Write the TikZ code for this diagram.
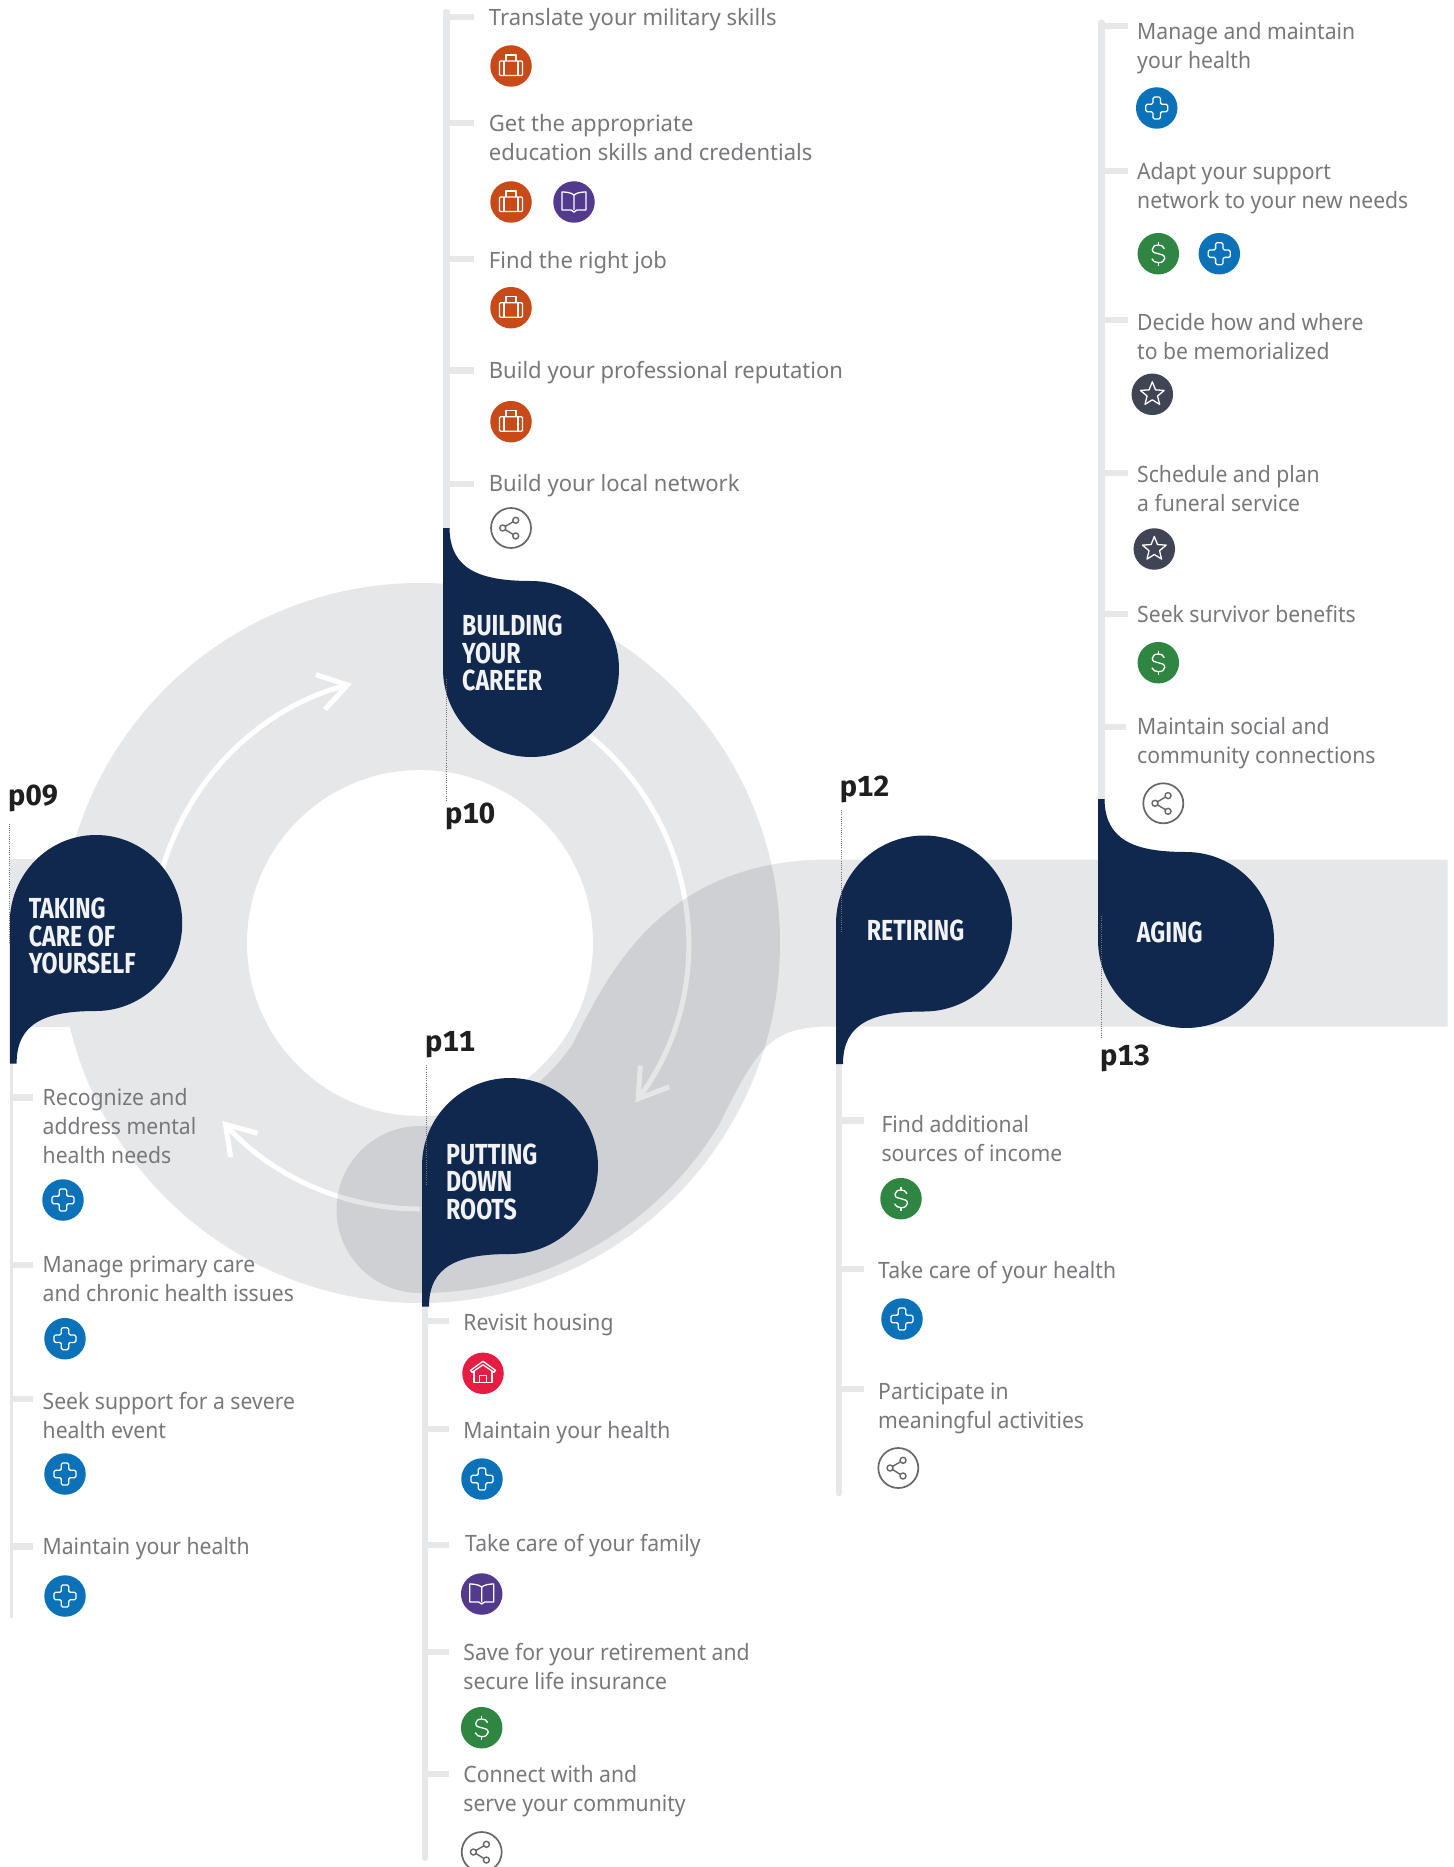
\documentclass[tikz,border=0pt]{standalone}
\usepackage{fontspec}
\setmainfont[FakeStretch=0.94]{Noto Sans}
\newfontfamily\careerfont[FakeStretch=0.98]{Noto Sans}
\newfontfamily\labelfont[Numbers=Monospaced]{Fira Sans}
\newfontfamily\headfont[FakeStretch=0.8]{Fira Sans}
\usetikzlibrary{arrows.meta}

\definecolor{navy}{HTML}{10284D}
\definecolor{lightring}{HTML}{E6E7E9}
\definecolor{bodygray}{HTML}{77787B}
\definecolor{casecol}{HTML}{C74A18}
\definecolor{bookcol}{HTML}{533A8D}
\definecolor{pluscol}{HTML}{0B72BA}
\definecolor{cashcol}{HTML}{2F8642}
\definecolor{starcol}{HTML}{3F4554}
\definecolor{homecol}{HTML}{E61C43}
\definecolor{sharecol}{HTML}{666769}
\definecolor{ribboncol}{RGB}{0,15,35}

\tikzset{
  ringline/.style={draw=lightring, line width=187pt},
  ribbon/.style={draw=ribboncol, draw opacity=0.1, line width=167pt, line cap=round},
  ringarrow/.style={draw=white, line width=5pt, -{Straight Barb[length=28pt,width=36pt]}},
  stemline/.style={draw=lightring, line width=6.5pt, line cap=round},
  tickline/.style={draw=lightring, line width=6.5pt},
  dotline/.style={draw=black!55, line width=0.8pt, dash pattern=on 1pt off 1.2pt},
  item/.style={anchor=north west, inner sep=0pt, align=left, text=bodygray,
    font=\fontsize{22.5}{29}\selectfont, execute at begin node={\rule{0pt}{20pt}}},
  careeritem/.style={item, font=\careerfont\fontsize{22.5}{29}\selectfont},
  headtext/.style={anchor=west, inner sep=0pt, align=left, text=white!94!navy,
    font=\headfont\bfseries\fontsize{29}{27.5}\selectfont},
  pagelabel/.style={anchor=base west, inner sep=0pt, text=black!88,
    font=\labelfont\bfseries\fontsize{29}{29}\selectfont},
  icondot/.style={circle, inner sep=0pt, minimum size=41.5pt},
  iconline/.style={draw=white, line width=1.3pt, line join=round},
  casedot/.style={icondot, fill=casecol},
  bookdot/.style={icondot, fill=bookcol},
  plusdot/.style={icondot, fill=pluscol},
  cashdot/.style={icondot, fill=cashcol},
  stardot/.style={icondot, fill=starcol},
  homedot/.style={icondot, fill=homecol},
  sharedot/.style={icondot, fill=white, draw=sharecol, line width=1.7pt, minimum size=40pt},
  pics/casepic/.style={code={
    \draw[iconline, rounded corners=1pt] (-11.5,-5) rectangle (11.5,9.5);
    \draw[iconline] (-7,-5) -- (-7,9.5) (7,-5) -- (7,9.5);
    \draw[iconline] (-5,-5) -- (-5,-11) -- (5,-11) -- (5,-5);
  }},
  pics/bookpic/.style={code={
    \draw[iconline] (0,-7) .. controls (-3,-9.5) and (-8,-10) .. (-12,-10) -- (-12,8) -- (-3,8) -- (0,10)
      -- (3,8) -- (12,8) -- (12,-10) .. controls (8,-10) and (3,-9.5) .. (0,-7) -- (0,8);
  }},
  pics/pluspic/.style={code={
    \draw[iconline, rounded corners=1.5pt] (-3.7,-11) -- (3.7,-11) -- (3.7,-3.7) -- (11,-3.7) -- (11,3.7)
      -- (3.7,3.7) -- (3.7,11) -- (-3.7,11) -- (-3.7,3.7) -- (-11,3.7) -- (-11,-3.7) -- (-3.7,-3.7) -- cycle;
  }},
  pics/cashpic/.style={code={
    \draw[iconline] (6,-5) .. controls (5,-8) and (2.5,-8.7) .. (0,-8.7) .. controls (-3.5,-8.7) and (-6,-7) .. (-6,-4.3)
      .. controls (-6,-1) and (-3,-0.5) .. (0,0) .. controls (3,0.5) and (6.5,1.5) .. (6.5,4.5)
      .. controls (6.5,7.5) and (3.5,9) .. (0,9) .. controls (-3,9) and (-5.5,7.5) .. (-6.5,5);
    \draw[iconline] (0,-12) -- (0,-8.7) (0,9) -- (0,12);
  }},
  pics/starpic/.style={code={
    \draw[iconline] (-90:12.5) -- (-54:5.5) -- (-18:12.5) -- (18:5.5) -- (54:12.5) -- (90:5.5)
      -- (126:12.5) -- (162:5.5) -- (198:12.5) -- (234:5.5) -- cycle;
  }},
  pics/homepic/.style={code={
    \draw[iconline] (-12.5,-3) -- (0,-12) -- (12.5,-3) -- (11,-1) -- (0,-8.5) -- (-11,-1) -- cycle;
    \draw[iconline] (-9,-2) -- (-9,9) -- (9,9) -- (9,-2);
    \draw[iconline] (-3.3,9) -- (-3.3,2) -- (3.3,2) -- (3.3,9);
  }},
  pics/sharepic/.style={code={
    \draw[draw=sharecol, line width=1.4pt] (-8.3,0) circle (3) (4.7,-7.7) circle (3) (4.7,8) circle (3);
    \draw[draw=sharecol, line width=1.4pt] (-5.7,-1.6) -- (2.1,-6.2) (-5.7,1.6) -- (2.1,6.4);
  }},
  pics/blobdown/.style={code={
    \fill[navy] (-88,140.5) -- (-81,140.5) .. controls (-81,100) and (-52,88) .. (0,88)
      arc[start angle=90, end angle=-180, radius=88] -- cycle;
  }},
  pics/blobup/.style={code={
    \fill[navy] (-88,-141) -- (-81.5,-141) .. controls (-81,-100) and (-52,-88) .. (0,-88)
      arc[start angle=-90, end angle=180, radius=88] -- cycle;
  }},
}

\begin{document}
\begin{tikzpicture}[x=1pt, y=-1pt]
  \useasboundingbox (0,0) rectangle (1453,1867);
  \coordinate (ring) at (420,943);

  % ring, its arrows, then the ribbon that runs out to the right
  \fill[lightring] (10,859) rectangle (100,1027);
  \draw[ringline] (ring) circle (266.5);
  \draw[ringarrow] (ring) ++(-164:268) arc[start angle=-164, end angle=-104.7, radius=268];
  \draw[ringarrow] (ring) ++(-50.8:268) arc[start angle=-50.8, end angle=36.5, radius=268];
  \draw[ringarrow] (ring) ++(90:266) arc[start angle=90, end angle=138, radius=266];
  \begin{scope}
    \clip (0,0) rectangle (1447.5,1867);
    \draw[ribbon] (ring) ++(90:266.5) arc[start angle=90, end angle=32, radius=266.5]
      .. controls (685,1005) and (720,943) .. (830,943) -- (1560,943);
  \end{scope}

  % stems
  \coordinate (caretop) at (446.5,12);    \coordinate (careend) at (446.5,560);
  \coordinate (selftop) at (11,1040);     \coordinate (selfend) at (11,1617);
  \coordinate (rootop) at (425,1290);     \coordinate (rooend) at (425,1858);
  \coordinate (rettop) at (839,1050);     \coordinate (retend) at (839,1493);
  \coordinate (agetop) at (1101.3,22.7);  \coordinate (ageend) at (1101.3,830);
  \draw[stemline] (caretop) -- (careend);
  \draw[stemline, line width=3pt] (selftop) -- (selfend);
  \draw[stemline] (rootop) -- (rooend);
  \draw[stemline] (rettop) -- (retend);
  \draw[stemline] (agetop) -- (ageend);

  % list items: name/style/text x/tick start/tick end/tick y/text y/text
  \foreach \n/\o/\x/\sa/\sb/\t/\b/\txt in {
    ca/careeritem/488.7/446.5/474/17/25/{Translate your military skills},
    cb/careeritem/488.7/446.5/474/123/134.6/{Get the appropriate\\education skills and credentials},
    cc/careeritem/488.7/446.5/474/259/268/{Find the right job},
    cd/careeritem/488.7/446.5/474/370.7/378/{Build your professional reputation},
    ce/careeritem/488.7/446.5/474/484/491/{Build your local network},
    sa/item/42.5/11/33/1097.7/1107.9/{Recognize and\\address mental\\health needs},
    sb/item/42.5/11/33/1265/1275.6/{Manage primary care\\and chronic health issues},
    sc/item/42.5/11/33/1399/1411.6/{Seek support for a severe\\health event},
    sd/item/42.5/11/33/1546.7/1554/{Maintain your health},
    ra/item/463.2/425/448.7/1321/1330/{Revisit housing},
    rb/item/463.2/425/448.7/1429/1438.7/{Maintain your health},
    rc/item/465/425/448.7/1545/1551.7/{Take care of your family},
    rd/item/463.2/425/448.7/1652/1662.6/{Save for your retirement and\\secure life insurance},
    re/item/463.2/425/448.7/1774/1785.3/{Connect with and\\serve your community},
    ta/item/881.3/839/863.7/1120.7/1135.3/{Find additional\\sources of income},
    tb/item/878/839/863.7/1269/1278/{Take care of your health},
    tc/item/878/839/863.7/1389/1402.6/{Participate in\\meaningful activities},
    aa/item/1137/1101.3/1128/26/42.6/{Manage and maintain\\your health},
    ab/item/1137/1101.3/1128/171/182.6/{Adapt your support\\network to your new needs},
    ac/item/1137/1101.3/1128/320/333.6/{Decide how and where\\to be memorialized},
    ad/item/1137/1101.3/1128/473/485.3/{Schedule and plan\\a funeral service},
    ae/item/1137/1101.3/1128/614/622.7/{Seek survivor benefits},
    af/item/1137/1101.3/1126/727/737.6/{Maintain social and\\community connections}} {
    \coordinate (\n stem) at (\sa,\t);
    \coordinate (\n tip) at (\sb,\t);
    \draw[tickline] (\n stem) -- (\n tip);
    \node[\o] (\n) at (\x,\b-20) {\txt};
  }

  % icons
  \foreach \n/\x/\y/\k in {
    i1/511/66/case, i2/511/202/case, i3/574/202/book, i4/511/307.7/case, i5/511/421.7/case, i6/511/528/share,
    i7/63/1200/plus, i8/65/1338.7/plus, i9/65/1474/plus, i10/65/1596/plus,
    i11/483/1373.3/home, i12/482/1479/plus, i13/481.7/1594/book, i14/481.7/1727.7/cash, i15/481.7/1852/share,
    i16/901/1198.7/cash, i17/902/1319/plus, i18/898.3/1468/share,
    i19/1156.7/108/plus, i20/1158.3/253.7/cash, i21/1219.3/253.7/plus, i22/1152.3/394.3/star,
    i23/1154.3/549/star, i24/1158.3/662.7/cash, i25/1163.3/803.3/share} {
    \node[\k dot] (\n) at (\x,\y) {};
    \pic at (\n) {\k pic};
  }

  % blobs and their titles
  \coordinate (selfblob) at (96,923);
  \coordinate (careblob) at (531,669);
  \coordinate (rootblob) at (510,1166);
  \coordinate (retblob) at (924,923.5);
  \coordinate (ageblob) at (1186,940);
  \pic[xscale=0.98] at (selfblob) {blobdown};
  \pic at (careblob) {blobup};
  \pic at (rootblob) {blobdown};
  \pic at (retblob) {blobdown};
  \pic at (ageblob) {blobup};
  \node[headtext] (selftitle) at (28.6,936) {TAKING\\CARE OF\\YOURSELF};
  \node[headtext] (caretitle) at (462,653) {BUILDING\\YOUR\\CAREER};
  \node[headtext] (roottitle) at (446,1181.5) {PUTTING\\DOWN\\ROOTS};
  \node[headtext] (rettitle) at (866.7,930) {RETIRING};
  \node[headtext] (agetitle) at (1136.7,932) {AGING};

  % page marks
  \node[pagelabel] (p09) at (8,805.6) {p09};
  \node[pagelabel] (p10) at (445,823.5) {p10};
  \node[pagelabel] (p11) at (425,1051) {p11};
  \node[pagelabel] (p12) at (839.6,796) {p12};
  \node[pagelabel] (p13) at (1100,1065) {p13};
  \foreach \n/\x/\ya/\yb in {p09/9.7/823.6/944, p10/446.5/679/801, p11/426.5/1065/1186,
    p12/841.7/810/932, p13/1101/916/1038} {
    \coordinate (\n a) at (\x,\ya);
    \coordinate (\n b) at (\x,\yb);
    \draw[dotline] (\n a) -- (\n b);
  }
\end{tikzpicture}
\end{document}
